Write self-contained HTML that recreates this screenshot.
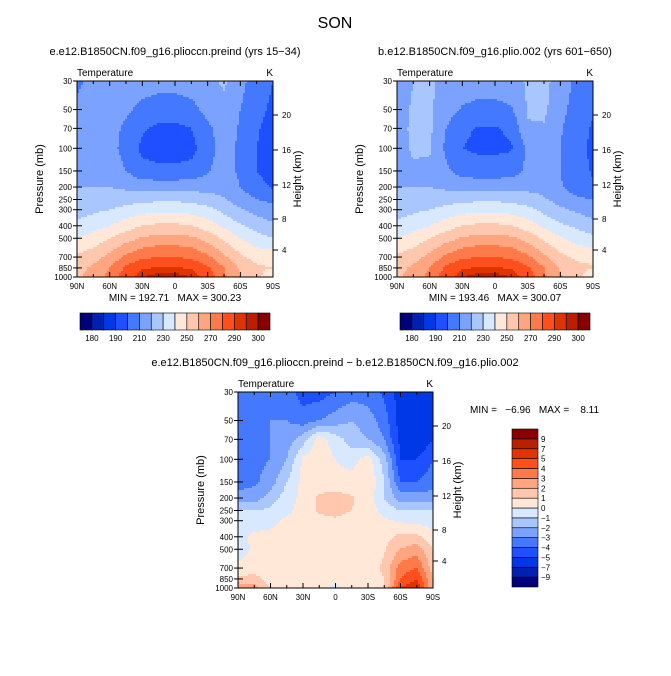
<!DOCTYPE html>
<html><head><meta charset="utf-8"><style>
body{margin:0;background:#fff;width:671px;height:671px;overflow:hidden;font-family:"Liberation Sans",sans-serif;}
svg text{font-family:"Liberation Sans",sans-serif;fill:#000;white-space:pre;}
</style></head><body>
<svg id="s" width="671" height="671" viewBox="0 0 671 671" xmlns="http://www.w3.org/2000/svg"></svg>
<script>
const lats=["90N","75N","60N","45N","30N","15N","0","15S","30S","45S","60S","75S","90S"];
const levels=[30,50,70,100,150,200,250,300,400,500,700,850,1000];
const heightTicks=[20,16,12,8,4];
const tempBounds=[180,185,190,200,210,220,230,240,250,260,270,280,290,295,300];
const tempLabels=["180","","190","","210","","230","","250","","270","","290","","300"];
const diffBounds=[-9,-7,-5,-4,-3,-2,-1,0,1,2,3,4,5,7,9];
const diffLabels=["-9","-7","-5","-4","-3","-2","-1","0","1","2","3","4","5","7","9"];
const palette=["#00007a","#0020b0","#0038e8","#1f50ff","#4478ff","#7ba2ff","#aac6ff","#d8e8ff","#ffe8d8","#ffc8ae","#ffa680","#ff7a4a","#ff4f1c","#e03400","#b82000","#8a0000"];
const preindT=[
[208,213,215,215,215,214,214,215,217,222,213,205,200],
[212,214,214,212,207,205,205,207,213,216,210,203,198],
[214,215,214,208,201,198,198,200,208,215,209,201,196],
[216,216,214,206,198,196,196,197,206,214,208,200,195],
[218,218,216,210,203,202,202,203,209,215,208,200,196],
[220,220,220,218,216,216,216,216,216,216,210,203,199],
[223,224,225,226,227,228,228,227,225,221,215,210,208],
[226,228,230,233,236,238,238,236,233,227,221,216,213],
[232,236,240,245,250,252,252,250,245,238,231,226,222],
[240,244,250,256,261,264,264,262,256,248,240,234,230],
[252,256,263,272,278,280,280,278,272,262,252,246,246],
[256,262,270,282,289,291,291,289,282,270,258,252,250],
[258,265,273,286,295,298,298,295,286,272,260,255,238]];
const plioT=[
[212,220,221,218,216,215,215,217,221,223,215,208,203],
[214,222,222,214,209,207,207,209,221,222,213,206,201],
[216,222,222,210,202,199,199,202,219,219,211,204,199],
[217,221,221,208,200,198,198,199,212,216,210,203,198],
[219,219,218,212,206,205,205,206,212,216,210,204,199],
[220,220,220,218,216,216,216,216,217,217,211,205,201],
[223,224,225,226,227,228,228,227,225,221,216,212,210],
[226,228,230,233,236,238,238,236,233,227,222,218,215],
[232,236,240,245,250,252,252,250,245,238,232,228,224],
[240,244,250,256,261,264,264,262,256,248,241,236,232],
[252,256,263,272,278,280,280,278,272,262,253,248,247],
[256,262,270,282,289,291,291,289,282,270,259,253,251],
[258,265,273,286,295,298,298,295,286,272,261,256,238]];
const diffT=[
[-3,-3,-3,-3.5,-4.5,-4.5,-4,-3.5,-3.5,-4.2,-5.5,-6,-6],
[-3.2,-3.2,-3,-3,-3.5,-3,-2.5,-2,-2.5,-3.5,-5.5,-6,-6],
[-3.5,-3.3,-3,-2.5,-1.5,0.5,-0.5,-1.5,-2,-3,-5.3,-6,-5],
[-3.5,-3.3,-3,-2,0.2,0.6,0,-0.5,0.5,-1.5,-5,-5,-4],
[-3.5,-3.2,-2.5,-1,0.3,0.5,0.5,0.5,1,-1,-4,-4,-3.5],
[-2.5,-2.5,-1.5,-0.5,0.3,1.2,1.3,1.1,0.5,-1,-2.5,-2.5,-2.5],
[-1,-1,-0.8,-0.3,0.5,1.1,1.2,1.0,0.5,-0.3,-1,-1,-1],
[-0.5,-0.5,-0.3,0.2,0.5,0.8,0.9,0.7,0.5,0.2,-0.2,-0.3,-0.5],
[-0.3,0.2,0.3,0.4,0.5,0.5,0.5,0.5,0.5,0.6,1.3,1.3,0.3],
[-0.5,0.2,0.3,0.3,0.4,0.4,0.4,0.4,0.5,0.9,2,2.5,1],
[0.3,0.3,0.2,0.1,0.3,0.4,0.2,0.4,0.5,1.2,3.5,4,1.5],
[1.2,1.5,0.5,0.2,0.3,0.3,0.3,0.3,0.4,1,4,5,2],
[3,2.5,1,0.3,0.3,0.3,-0.2,0.3,0.3,0.8,5,6,2]];

const NS="http://www.w3.org/2000/svg";
const svg=document.getElementById('s');
function mk(tag,attrs,parent){const e=document.createElementNS(NS,tag);for(const k in attrs)e.setAttribute(k,attrs[k]);(parent||svg).appendChild(e);return e;}
function txt(x,y,s,size,anchor,parent,rot){const t=mk('text',{x:x,y:y,'font-size':size,'text-anchor':anchor||'start'},parent);if(rot)t.setAttribute('transform',`rotate(-90 ${x} ${y})`);t.textContent=s;return t;}
function colorIdx(v,b){let i=0;while(i<b.length&&v>=b[i])i++;return i;}
const L0=Math.log(30),L1=Math.log(1000);
function yOfP(p,top,h){return top+(Math.log(p)-L0)/(L1-L0)*h;}
function sample(grid,fx,lp){
  let j=0;while(j<levels.length-2&&lp>Math.log(levels[j+1]))j++;
  const a=Math.log(levels[j]),b=Math.log(levels[j+1]);let ty=(lp-a)/(b-a);ty=Math.max(0,Math.min(1,ty));
  fx=Math.max(0,Math.min(lats.length-1,fx));
  let i=Math.min(Math.floor(fx),lats.length-2);let tx=fx-i;
  const v00=grid[j][i],v01=grid[j][i+1],v10=grid[j+1][i],v11=grid[j+1][i+1];
  return (v00*(1-tx)+v01*tx)*(1-ty)+(v10*(1-tx)+v11*tx)*ty;
}
function panel(name,grid,bounds,left,top,w,h,opts){
  const g=mk('g',{},svg);
  
  
  const cs=2;
  for(let py=0;py<h;py+=cs){
    const lp=L0+Math.min(py+cs/2,h)/h*(L1-L0);
    const rh=Math.min(cs,h-py);
    let runStart=0,runC=-1;
    const cols=[];
    for(let px=0;px<w;px+=cs){const fx=(px+cs/2)/w*(lats.length-1);cols.push(colorIdx(sample(grid,fx,lp),bounds));}
    cols.push(-2);
    for(let k=0;k<cols.length;k++){
      const px=Math.min(k*cs,w);const c=cols[k];
      if(c!==runC){
        if(runC>=0){const r=mk('rect',{x:left+runStart,y:top+py,width:px-runStart+0.5,height:rh+0.5,fill:palette[runC]},g);
          }
        runC=c;runStart=px;
      }
    }
  }
  const fr=mk('rect',{x:left,y:top,width:w,height:h,fill:'none',stroke:'#000','stroke-width':1},g);
  
  for(let i=0;i<=12;i++){
    const x=left+i*w/12;const len=(i%2===0)?5:3;
    mk('line',{x1:x,y1:top+h,x2:x,y2:top+h-len,stroke:'#000'},g);
    mk('line',{x1:x,y1:top,x2:x,y2:top+len,stroke:'#000'},g);
    if(i%2===0){const t=txt(x,top+h+12,lats[i],8,'middle',g);
      }
  }
  levels.forEach(p=>{const y=yOfP(p,top,h);
    mk('line',{x1:left,y1:y,x2:left+5,y2:y,stroke:'#000'},g);
    mk('line',{x1:left-4,y1:y,x2:left,y2:y,stroke:'#000'},g);
    if(opts.yLabels){const t=txt(left-5,y+3,String(p),8,'end',g);
      }
  });
  const hOff={20:34,16:69,12:104,8:138,4:169};
  heightTicks.forEach(k=>{const y=top+hOff[k]*h/196;
    mk('line',{x1:left+w,y1:y,x2:left+w+5,y2:y,stroke:'#000'},g);
    const t=txt(left+w+9,y+3,String(k),8,'start',g);
    });
  const t1=txt(left,top-5,'Temperature',10,'start',g);
  const t2=txt(left+w,top-5,'K',10,'end',g);
  const t3=txt(left-34,top+h/2,'Pressure (mb)',11,'middle',g,true);
  const t4=txt(left+w+28,top+h/2,'Height (km)',11,'middle',g,true);
}
function hbar(name,left,top,w,h,labels){
  const g=mk('g',{},svg);
  
  const n=palette.length,bw=w/n;
  for(let i=0;i<n;i++){const r=mk('rect',{x:left+i*bw,y:top,width:bw,height:h,fill:palette[i],stroke:'#000','stroke-width':0.6},g);
    }
  labels.forEach((s,i)=>{if(s){const t=txt(left+(i+1)*bw,top+h+11,s,8,'middle',g);}});
}
function vbar(name,left,top,w,h,labels){
  const g=mk('g',{},svg);
  
  const n=palette.length,bh=h/n;
  for(let i=0;i<n;i++){const r=mk('rect',{x:left,y:top+(n-1-i)*bh,width:w,height:bh,fill:palette[i],stroke:'#000','stroke-width':0.6},g);
    }
  labels.forEach((s,i)=>{const t=txt(left+w+3,top+(n-1-i)*bh+3,s.replace('-','\u2212'),8,'start',g);});
}
let t;
t=txt(335,28,'SON',16,'middle');
t=txt(175,55,'e.e12.B1850CN.f09_g16.plioccn.preind (yrs 15\u221234)',11,'middle');
t=txt(495,55,'b.e12.B1850CN.f09_g16.plio.002 (yrs 601\u2212650)',11,'middle');
t=txt(335,366,'e.e12.B1850CN.f09_g16.plioccn.preind \u2212 b.e12.B1850CN.f09_g16.plio.002',11,'middle');
panel('preind-panel',preindT,tempBounds,77,81,196,196,{yLabels:true});
panel('plio-panel',plioT,tempBounds,397,81,196,196,{yLabels:true});
panel('diff-panel',diffT,diffBounds,238,392,195,196,{yLabels:true});
t=txt(175,301,'MIN = 192.71   MAX = 300.23',10,'middle');
t=txt(495,301,'MIN = 193.46   MAX = 300.07',10,'middle');
t=txt(470,413,'MIN =   \u22126.96   MAX =    8.11',10,'start');
hbar('left-colorbar',80,313,190,17,tempLabels);
hbar('right-colorbar',400,313,190,17,tempLabels);
vbar('diff-colorbar',512,429,26,158,diffLabels);
</script>
</body></html>
